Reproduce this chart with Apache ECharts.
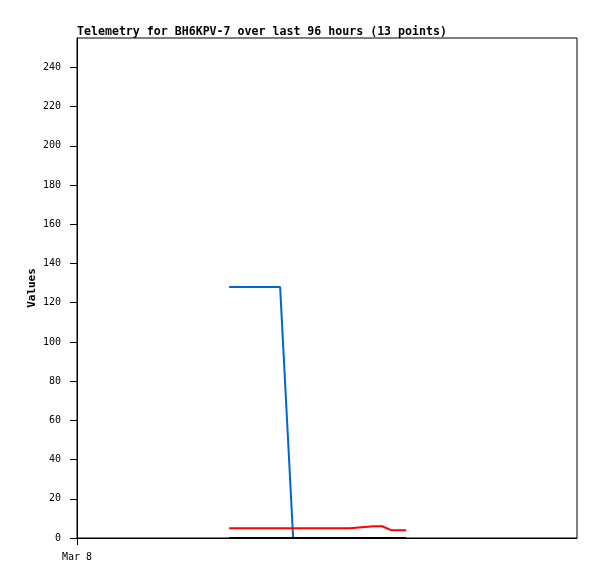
<!DOCTYPE html>
<html><head><meta charset="utf-8">
<script src="https://cdn.jsdelivr.net/npm/echarts@6/dist/echarts.min.js"></script>
<style>html,body{margin:0;padding:0;background:#fff}#c{width:597px;height:579px}</style>
</head><body><div id="c"></div>
<script>
// hours since Mar 8 00:00
const hours = [29.2, 32.3, 35.5, 39.0, 41.5, 44.7, 48.6, 52.4, 57.0, 58.6, 60.3, 61.6, 63.2];
const blueValues = [128, 128, 128, 128, 0, 0, 0, 0, 0, 0, 0, 0, 0];
const redValues = [5, 5, 5, 5, 5, 5, 5, 5, 6, 6, 4, 4, 4];
const blackValues = [0, 0, 0, 0, 0, 0, 0, 0, 0, 0, 0, 0, 0];
const yTicks = [0, 20, 40, 60, 80, 100, 120, 140, 160, 180, 200, 220, 240];
const xTicks = [0];
const xLabel = 'Mar 8';
const titleText = 'Telemetry for BH6KPV-7 over last 96 hours (13 points)';

const pair = v => hours.map((h, i) => [h, v[i]]);
const mono = 'DejaVu Sans Mono';
const chart = echarts.init(document.getElementById('c'));
chart.setOption({
  animation: false,
  title: { text: titleText, left: 72, top: 21, textStyle: { fontFamily: mono, fontSize: 11.6, fontWeight: 'bold', color: '#000' } },
  grid: { left: 77, right: 20, top: 38, bottom: 41, show: true, borderColor: '#000', borderWidth: 1, backgroundColor: '#fff' },
  xAxis: [{
    type: 'value', min: 0, max: 96, interval: 96,
    axisLine: { lineStyle: { color: '#000' } },
    axisTick: { show: true, length: 7, customValues: xTicks, lineStyle: { color: '#000' } },
    axisLabel: { margin: 14, fontFamily: mono, fontSize: 10, color: '#000', customValues: xTicks, formatter: v => v === 0 ? xLabel : '' },
    splitLine: { show: false }
  }, {
    type: 'value', min: 0, max: 96, interval: 96, position: 'bottom',
    axisLine: { show: false },
    axisTick: { show: true, inside: true, length: 8, customValues: xTicks, lineStyle: { color: '#000' } },
    axisLabel: { show: false }, splitLine: { show: false }
  }],
  yAxis: {
    type: 'value', min: 0, max: 255, interval: 20,
    name: 'Values', nameLocation: 'middle', nameGap: 39, nameMoveOverlap: false,
    nameTextStyle: { fontFamily: mono, fontSize: 11, fontWeight: 'bold', color: '#000' },
    axisLine: { show: true, lineStyle: { color: '#000' } },
    axisTick: { show: true, length: 7, customValues: yTicks, lineStyle: { color: '#000' } },
    axisLabel: { margin: 16, fontFamily: mono, fontSize: 10, color: '#000', customValues: yTicks, formatter: v => String(v) },
    splitLine: { show: false }
  },
  series: [
    { type: 'line', data: pair(blueValues), symbol: 'none', lineStyle: { color: '#0066cc', width: 2 }, z: 2 },
    { type: 'line', data: pair(redValues), symbol: 'none', lineStyle: { color: '#ff0000', width: 2 }, z: 3 },
    { type: 'line', data: pair(blackValues), symbol: 'none', lineStyle: { color: '#000000', width: 2 }, z: 4 }
  ]
});
</script></body></html>
